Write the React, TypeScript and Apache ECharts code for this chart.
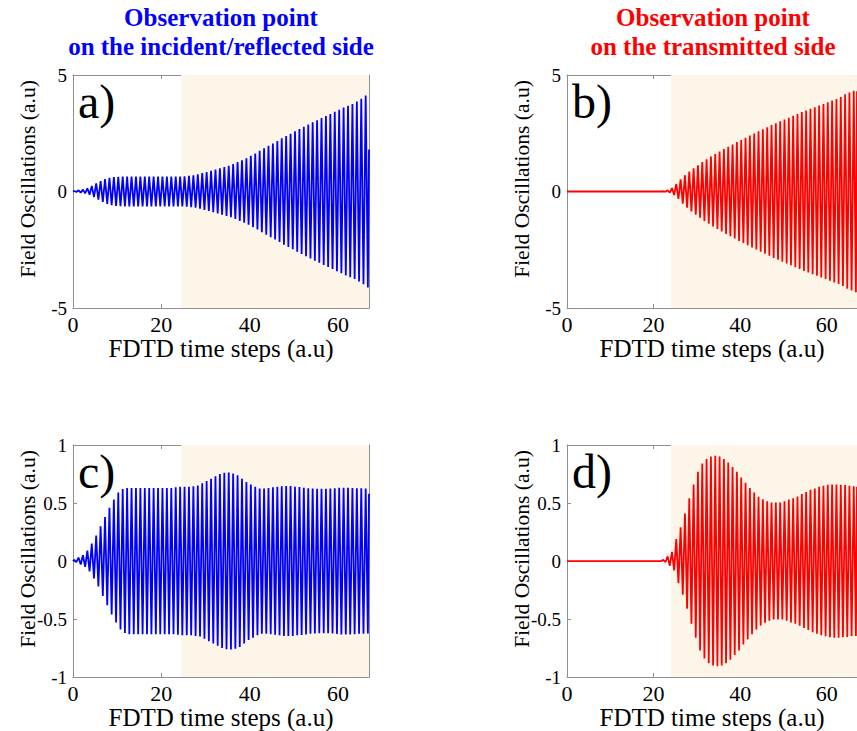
import React, { useEffect, useRef } from "react";
import * as echarts from "echarts";

// Peak amplitude of each oscillation cycle (one cycle per FDTD time unit)
const ampA = [
  0.02, 0.05, 0.08, 0.14, 0.24, 0.35, 0.45, 0.53, 0.59, 0.62,
  0.63, 0.64, 0.64, 0.64, 0.64, 0.64, 0.64, 0.64, 0.64, 0.64,
  0.64, 0.64, 0.64, 0.64, 0.64, 0.65, 0.67, 0.70, 0.74, 0.79,
  0.84, 0.89, 0.94, 1.0, 1.05, 1.1, 1.18, 1.26, 1.34, 1.43,
  1.53, 1.63, 1.75, 1.86, 1.96, 2.06, 2.17, 2.28, 2.38, 2.48,
  2.58, 2.68, 2.78, 2.88, 2.97, 3.06, 3.15, 3.24, 3.33, 3.42,
  3.51, 3.6, 3.68, 3.76, 3.86, 3.98, 4.12,
];
const ampB = [
  0, 0, 0, 0, 0, 0, 0, 0, 0, 0,
  0, 0, 0, 0, 0, 0, 0, 0, 0, 0,
  0, 0, 0.01, 0.05, 0.15, 0.32, 0.52, 0.7, 0.86, 1.0,
  1.13, 1.26, 1.38, 1.5, 1.61, 1.72, 1.82, 1.92, 2.02, 2.12,
  2.21, 2.31, 2.4, 2.49, 2.58, 2.67, 2.76, 2.85, 2.93, 3.01,
  3.09, 3.17, 3.25, 3.33, 3.41, 3.48, 3.55, 3.62, 3.69, 3.76,
  3.83, 3.9, 3.97, 4.05, 4.17, 4.25, 4.32,
];
const ampC = [
  0.01, 0.03, 0.05, 0.09, 0.15, 0.22, 0.3, 0.38, 0.46, 0.53,
  0.59, 0.62, 0.63, 0.63, 0.63, 0.63, 0.63, 0.63, 0.63, 0.63,
  0.63, 0.63, 0.63, 0.635, 0.64, 0.64, 0.64, 0.645, 0.65, 0.67,
  0.69, 0.71, 0.73, 0.75, 0.76, 0.762, 0.755, 0.74, 0.71, 0.68,
  0.66, 0.64, 0.626, 0.626, 0.63, 0.635, 0.64, 0.645, 0.646, 0.646,
  0.64, 0.637, 0.632, 0.627, 0.625, 0.622, 0.622, 0.622, 0.625, 0.628,
  0.632, 0.632, 0.632, 0.63, 0.627, 0.627, 0.625,
];
const ampD = [
  0, 0, 0, 0, 0, 0, 0, 0, 0, 0,
  0, 0, 0, 0, 0, 0, 0, 0, 0, 0,
  0, 0, 0.01, 0.04, 0.08, 0.19, 0.29, 0.41, 0.54, 0.66,
  0.77, 0.84, 0.88, 0.9, 0.907, 0.9, 0.88, 0.85, 0.81, 0.77,
  0.72, 0.675, 0.63, 0.59, 0.555, 0.532, 0.515, 0.504, 0.504, 0.504,
  0.515, 0.53, 0.54, 0.557, 0.577, 0.594, 0.614, 0.626, 0.64, 0.648,
  0.657, 0.66, 0.66, 0.657, 0.655, 0.648, 0.645,
];
// value where each trace ends at the right edge
const endValues = [1.8, 4.3, 0.58, 0.64];

const xMax = 67;
const shadeStart = [24.5, 24, 24.5, 24];
const yRanges = [
  { min: -5, max: 5, interval: 5 },
  { min: -5, max: 5, interval: 5 },
  { min: -1, max: 1, interval: 0.5 },
  { min: -1, max: 1, interval: 0.5 },
];
const panelLetters = ["a)", "b)", "c)", "d)"];
const colors = ["#0000ff", "#ff0000", "#0000ff", "#ff0000"];
const titles = [
  "Observation point\non the incident/reflected side",
  "Observation point\non the transmitted side",
];
const xName = "FDTD time steps (a.u)";
const yName = "Field Oscillations (a.u)";

function buildWave(amp: number[], end: number): number[][] {
  const pts: number[][] = [[0, 0]];
  amp.forEach((a, k) => {
    pts.push([k + 0.25, a]);
    pts.push([k + 0.75, -a]);
  });
  pts.push([xMax, end]);
  return pts;
}

const SERIF = "'Liberation Serif', 'Times New Roman', serif";
const AXIS_GREY = "#8f8f8f";

export default function App() {
  const ref = useRef<HTMLDivElement>(null);
  useEffect(() => {
    if (!ref.current) return;
    const chart = echarts.init(ref.current, undefined, { renderer: "svg" });
    const grids = [
      { left: 73, top: 75, width: 296, height: 233 },
      { left: 567, top: 75, width: 296, height: 233 },
      { left: 73, top: 445, width: 296, height: 233 },
      { left: 567, top: 445, width: 296, height: 233 },
    ];
    const amps = [ampA, ampB, ampC, ampD];
    const xAxis: any[] = [];
    const yAxis: any[] = [];
    const series: any[] = [];
    const tick = { show: true, inside: true, length: 4, lineStyle: { color: AXIS_GREY } };
    const line = { show: true, onZero: false, lineStyle: { color: AXIS_GREY, width: 1 } };
    grids.forEach((g, i) => {
      xAxis.push({
        type: "value",
        gridIndex: i,
        min: 0,
        max: xMax,
        interval: 20,
        name: xName,
        nameLocation: "middle",
        nameGap: 26,
        nameTextStyle: { fontFamily: SERIF, fontSize: 25, color: "#000" },
        axisLine: line,
        axisTick: tick,
        axisLabel: {
          showMaxLabel: false,
          fontFamily: SERIF,
          fontSize: 22,
          color: "#000",
          margin: 5,
        },
        splitLine: { show: false },
      });
      xAxis.push({
        type: "value",
        gridIndex: i,
        position: "top",
        min: 0,
        max: xMax,
        interval: 20,
        axisLine: line,
        axisTick: tick,
        axisLabel: { show: false },
        splitLine: { show: false },
      });
      const yr = yRanges[i];
      yAxis.push({
        type: "value",
        gridIndex: i,
        min: yr.min,
        max: yr.max,
        interval: yr.interval,
        axisLine: line,
        axisTick: tick,
        axisLabel: { fontFamily: SERIF, fontSize: 19, color: "#000", margin: 6 },
        splitLine: { show: false },
      });
      yAxis.push({
        type: "value",
        gridIndex: i,
        position: "right",
        min: yr.min,
        max: yr.max,
        interval: yr.interval,
        axisLine: line,
        axisTick: tick,
        axisLabel: { show: false },
        splitLine: { show: false },
      });
      series.push({
        type: "line",
        xAxisIndex: 2 * i,
        yAxisIndex: 2 * i,
        data: [],
        z: 1,
        silent: true,
        markArea: {
          silent: true,
          itemStyle: { color: "#fdf6e8" },
          data: [[{ xAxis: shadeStart[i] }, { xAxis: xMax }]],
        },
      });
      series.push({
        type: "line",
        xAxisIndex: 2 * i,
        yAxisIndex: 2 * i,
        data: buildWave(amps[i], endValues[i]),
        showSymbol: false,
        symbol: "none",
        z: 3,
        lineStyle: { color: colors[i], width: 1.8 },
      });
    });

    const graphic: any[] = [];
    grids.forEach((g, i) => {
      graphic.push({
        type: "text",
        left: g.left + 5,
        top: g.top + 2,
        z: 10,
        style: {
          text: panelLetters[i],
          font: `48px ${SERIF}`,
          fill: "#000",
        },
      });
      graphic.push({
        type: "text",
        x: g.left - 45,
        y: g.top + 104,
        rotation: Math.PI / 2,
        z: 10,
        style: {
          text: yName,
          font: `21.5px ${SERIF}`,
          fill: "#000",
          align: "center",
          verticalAlign: "middle",
        },
      });
    });
    titles.forEach((t, i) => {
      graphic.push({
        type: "text",
        x: i === 0 ? 221 : 713,
        y: 3,
        z: 10,
        style: {
          text: t,
          font: `bold 25px ${SERIF}`,
          fill: colors[i],
          align: "center",
          verticalAlign: "top",
          lineHeight: 29,
        },
      });
    });

    chart.setOption({
      animation: false,
      backgroundColor: "#ffffff",
      grid: grids.map((g) => ({ ...g, containLabel: false })),
      xAxis,
      yAxis,
      series,
      graphic,
    });
    return () => chart.dispose();
  }, []);
  return (
    <div
      ref={ref}
      style={{ position: "absolute", left: 0, top: 0, width: 857, height: 731 }}
    />
  );
}
